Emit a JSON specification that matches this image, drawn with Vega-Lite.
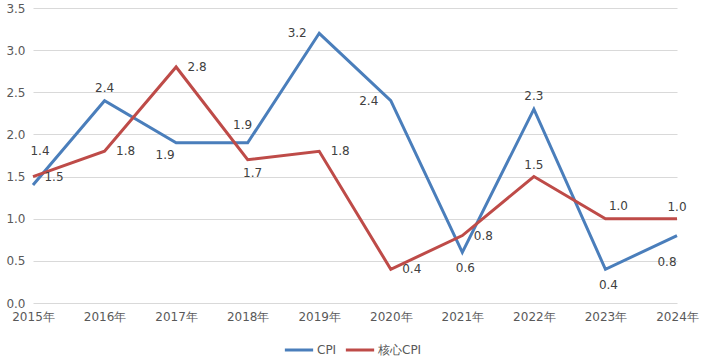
{
  "$schema": "https://vega.github.io/schema/vega-lite/v6.json",
  "width": 644,
  "height": 295,
  "autosize": {"type": "none"},
  "padding": {"left": 33, "top": 8, "right": 28, "bottom": 57},
  "background": "white",
  "config": {
    "view": {"stroke": null},
    "font": "DejaVu Sans",
    "axis": {"labelFont": "DejaVu Sans", "labelColor": "#595959", "labelFontSize": 12}
  },
  "data": {
    "values": [
      {"year": "2015年", "series": "CPI", "value": 1.4},
      {"year": "2016年", "series": "CPI", "value": 2.4},
      {"year": "2017年", "series": "CPI", "value": 1.9},
      {"year": "2018年", "series": "CPI", "value": 1.9},
      {"year": "2019年", "series": "CPI", "value": 3.2},
      {"year": "2020年", "series": "CPI", "value": 2.4},
      {"year": "2021年", "series": "CPI", "value": 0.6},
      {"year": "2022年", "series": "CPI", "value": 2.3},
      {"year": "2023年", "series": "CPI", "value": 0.4},
      {"year": "2024年", "series": "CPI", "value": 0.8},
      {"year": "2015年", "series": "核心CPI", "value": 1.5},
      {"year": "2016年", "series": "核心CPI", "value": 1.8},
      {"year": "2017年", "series": "核心CPI", "value": 2.8},
      {"year": "2018年", "series": "核心CPI", "value": 1.7},
      {"year": "2019年", "series": "核心CPI", "value": 1.8},
      {"year": "2020年", "series": "核心CPI", "value": 0.4},
      {"year": "2021年", "series": "核心CPI", "value": 0.8},
      {"year": "2022年", "series": "核心CPI", "value": 1.5},
      {"year": "2023年", "series": "核心CPI", "value": 1.0},
      {"year": "2024年", "series": "核心CPI", "value": 1.0}
    ]
  },
  "encoding": {
    "x": {
      "field": "year", "type": "ordinal",
      "scale": {"type": "point", "padding": 0},
      "axis": {"title": null, "labelAngle": 0, "ticks": false, "domain": false, "labelPadding": 8, "grid": false}
    },
    "y": {
      "field": "value", "type": "quantitative",
      "scale": {"domain": [0, 3.5], "nice": false},
      "axis": {"title": null, "values": [0, 0.5, 1, 1.5, 2, 2.5, 3, 3.5], "format": ".1f", "ticks": false, "domain": false, "gridColor": "#d9d9d9", "gridWidth": 1, "labelPadding": 8}
    }
  },
  "layer": [
    {
      "mark": {"type": "line", "strokeWidth": 3},
      "encoding": {
        "color": {
          "field": "series", "type": "nominal",
          "scale": {"domain": ["CPI", "核心CPI"], "range": ["#4A7EBB", "#BE4B48"]},
          "legend": {
            "title": null, "orient": "none", "direction": "horizontal",
            "legendX": 250, "legendY": 326,
            "symbolType": "stroke", "symbolSize": 800, "symbolStrokeWidth": 3,
            "labelFont": "DejaVu Sans", "labelFontSize": 12, "labelColor": "#595959",
            "labelOffset": 2, "columnPadding": 2
          }
        }
      }
    },
    {
      "transform": [{"filter": {"field": "series", "equal": "CPI"}}, {"filter": {"field": "year", "oneOf": ["2016年", "2022年"]}}],
      "mark": {"type": "text", "dy": -13, "fontSize": 12, "color": "#404040"},
      "encoding": {"text": {"field": "value", "format": ".1f"}}
    },
    {
      "transform": [{"filter": {"field": "series", "equal": "CPI"}}, {"filter": {"field": "year", "equal": "2018年"}}],
      "mark": {"type": "text", "dx": -5, "dy": -18, "fontSize": 12, "color": "#404040"},
      "encoding": {"text": {"field": "value", "format": ".1f"}}
    },
    {
      "transform": [{"filter": {"field": "series", "equal": "CPI"}}, {"filter": {"field": "year", "oneOf": ["2019年", "2020年"]}}],
      "mark": {"type": "text", "dx": -22, "fontSize": 12, "color": "#404040"},
      "encoding": {"text": {"field": "value", "format": ".1f"}}
    },
    {
      "transform": [{"filter": {"field": "series", "equal": "CPI"}}, {"filter": {"field": "year", "oneOf": ["2021年", "2023年"]}}],
      "mark": {"type": "text", "dx": 3, "dy": 16, "fontSize": 12, "color": "#404040"},
      "encoding": {"text": {"field": "value", "format": ".1f"}}
    },
    {
      "transform": [{"filter": {"field": "series", "equal": "CPI"}}, {"filter": {"field": "year", "equal": "2017年"}}],
      "mark": {"type": "text", "dx": -11, "dy": 12, "fontSize": 12, "color": "#404040"},
      "encoding": {"text": {"field": "value", "format": ".1f"}}
    },
    {
      "transform": [{"filter": {"field": "series", "equal": "CPI"}}, {"filter": {"field": "year", "equal": "2024年"}}],
      "mark": {"type": "text", "dx": -10, "dy": 26, "fontSize": 12, "color": "#404040"},
      "encoding": {"text": {"field": "value", "format": ".1f"}}
    },
    {
      "transform": [{"filter": {"field": "series", "equal": "CPI"}}, {"filter": {"field": "year", "equal": "2015年"}}],
      "mark": {"type": "text", "dx": 7, "dy": -34, "fontSize": 12, "color": "#404040"},
      "encoding": {"text": {"field": "value", "format": ".1f"}}
    },
    {
      "transform": [{"filter": {"field": "series", "equal": "核心CPI"}}, {"filter": {"field": "year", "oneOf": ["2015年", "2016年", "2017年", "2019年", "2020年", "2021年"]}}],
      "mark": {"type": "text", "dx": 21, "fontSize": 12, "color": "#404040"},
      "encoding": {"text": {"field": "value", "format": ".1f"}}
    },
    {
      "transform": [{"filter": {"field": "series", "equal": "核心CPI"}}, {"filter": {"field": "year", "oneOf": ["2022年", "2024年"]}}],
      "mark": {"type": "text", "dy": -12, "fontSize": 12, "color": "#404040"},
      "encoding": {"text": {"field": "value", "format": ".1f"}}
    },
    {
      "transform": [{"filter": {"field": "series", "equal": "核心CPI"}}, {"filter": {"field": "year", "equal": "2023年"}}],
      "mark": {"type": "text", "dx": 13, "dy": -13, "fontSize": 12, "color": "#404040"},
      "encoding": {"text": {"field": "value", "format": ".1f"}}
    },
    {
      "transform": [{"filter": {"field": "series", "equal": "核心CPI"}}, {"filter": {"field": "year", "equal": "2018年"}}],
      "mark": {"type": "text", "dx": 5, "dy": 13, "fontSize": 12, "color": "#404040"},
      "encoding": {"text": {"field": "value", "format": ".1f"}}
    }
  ]
}
